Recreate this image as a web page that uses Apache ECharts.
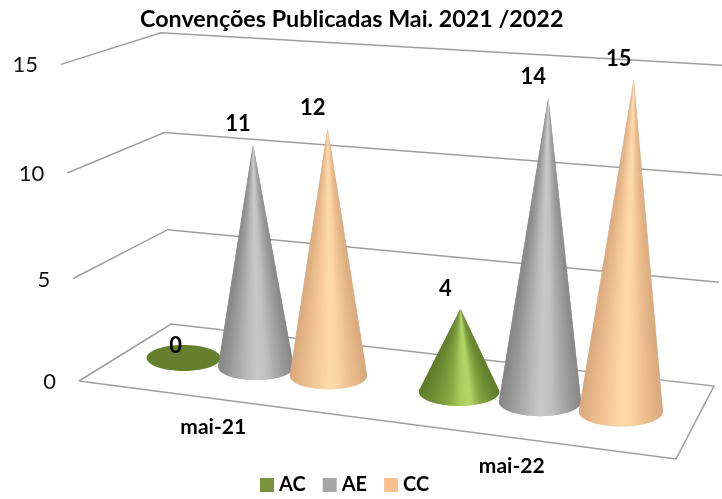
<!DOCTYPE html>
<html>
<head>
<meta charset="utf-8">
<style>html,body{margin:0;padding:0;background:#fff}#main{width:722px;height:499px}</style>
<script src="https://cdn.jsdelivr.net/npm/echarts@6/dist/echarts.min.js"></script>
</head>
<body>
<div id="main"></div>
<script>
var categories = ['mai-21', 'mai-22'];
var yTicks = [0, 5, 10, 15];
var AC = [0, 4];
var AE = [11, 14];
var CC = [12, 15];

var FONT = 'Lato';
var LINE = '#9e9e9e';

// cantos do chao 3D (x em px, dy em relacao a linha do zero)
var frontLeft = { x: 79, dy: 0, lean: -0.0566, f: 1 };
var backLeft = { x: 171, dy: -57, lean: -0.035, f: 0.92 };
var backRight = { x: 714, dy: 5, lean: 0.047, f: 1.012 };
var frontRight = { x: 676, dy: 78, lean: 0, f: 1 };

// sombreado de cada cone, da esquerda para a direita
var rampAC = ['#5e7b2a', '#6c8a33', '#7b9a3c', '#8aab45', '#a9cc5e', '#b4d76a', '#86a642', '#6f8e35', '#5f7c2b'];
var rampAE = ['#858585', '#979797', '#aaaaaa', '#bcbcbc', '#c8c8c8', '#c0c0c0', '#aaaaaa', '#989898', '#868686'];
var rampCC = ['#d9aa7e', '#e6b788', '#f0c394', '#f9cf9f', '#fedaa9', '#fad2a1', '#efc193', '#e4b586', '#d8a87c'];

// perspectiva: a altura cresce um pouco com o valor
function rise(v, api) {
	return api.size([0, 1])[1] * v * (1 + 0.003 * v);
}

function project(corner, v, api) {
	var r = rise(v, api) * corner.f;
	var zero = api.coord([0, 0])[1];
	return [corner.x + corner.lean * r, zero + corner.dy - r];
}

function renderFrame(params, api) {
	var v = api.value(0);
	var pts = [project(frontLeft, v, api), project(backLeft, v, api), project(backRight, v, api)];
	if (v === 0) {
		pts.push(project(frontRight, 0, api));
		pts.push(pts[0]);
	}
	return {
		type: 'group',
		children: [{
			type: 'polyline',
			shape: { points: pts },
			style: { fill: v === 0 ? '#fff' : 'none', stroke: LINE, lineWidth: 1.5 }
		}, {
			type: 'text',
			style: {
				text: String(v), x: pts[0][0] - 23, y: pts[0][1] + 1,
				align: 'right', verticalAlign: 'middle',
				font: '22px ' + FONT, fill: '#111'
			}
		}]
	};
}

function renderCategory(params, api) {
	var i = api.value(0);
	var zero = api.coord([i, 0])[1];
	var x = frontLeft.x + (frontRight.x - frontLeft.x) * (i + 0.5) / categories.length - 15;
	return {
		type: 'text',
		style: {
			text: categories[i], x: x, y: zero + 0.13 * (x - frontLeft.x) + 29,
			align: 'center', verticalAlign: 'middle',
			font: 'bold 21px ' + FONT, fill: '#000'
		}
	};
}

function coneRenderer(dodge, ramp) {
	return function (params, api) {
		var i = api.value(0);
		var v = api.value(1);
		var c = api.coord([i, 0]);
		var band = api.size([1, 0])[0];
		var depth = 1 + (c[0] - api.coord([0, 0])[0]) / band * 0.117;
		var x = c[0] + dodge * 0.255 * band * depth;
		var y = c[1] - 23 + 0.123 * (x - 184);
		var rx = 37 + (x - 184) * 0.0114;
		var ry = rx * 0.35;
		var h = rise(v, api) * (0.97 + (x - 256) * 0.000224);
		var tip = [x + (x - 350) / 7000 * h, y - h];
		var children = [];
		if (h <= ry) {
			children.push({
				type: 'ellipse',
				shape: { cx: x, cy: y, rx: rx, ry: ry },
				style: { fill: '#64802f' }
			});
		} else {
			var a = Math.asin(ry / h);
			var n = 48;
			// cada faceta cobre tambem a seguinte, assim nao ficam frestas
			for (var k = 0; k < n; k++) {
				var t0 = -a + (Math.PI + 2 * a) * k / n;
				var t1 = -a + (Math.PI + 2 * a) * Math.min(k + 2, n) / n;
				var p0 = [x + rx * Math.cos(t0), y + ry * Math.sin(t0)];
				var p1 = [x + rx * Math.cos(t1), y + ry * Math.sin(t1)];
				var col = echarts.color.lerp(((p0[0] + p1[0]) / 2 - x + rx) / (2 * rx), ramp);
				children.push({
					type: 'polygon',
					shape: { points: [tip, p0, p1] },
					style: { fill: col }
				});
			}
		}
		children.push({
			type: 'text',
			style: {
				text: String(v),
				x: tip[0] + (v ? -15 : -8), y: tip[1] + (v ? -20 : -12),
				align: 'center', verticalAlign: 'middle',
				font: 'bold 22px ' + FONT, fill: '#000'
			}
		});
		return { type: 'group', children: children };
	};
}

function coneSeries(name, values, dodge, ramp, color) {
	return {
		name: name,
		type: 'custom',
		renderItem: coneRenderer(dodge, ramp),
		data: values.map(function (v, i) { return [i, v]; }),
		encode: { x: 0, y: 1 },
		itemStyle: { color: color },
		clip: false,
		animation: false
	};
}

var myChart = echarts.init(document.getElementById('main'));
var option = {
	animation: false,
	title: {
		text: 'Convenções Publicadas Mai. 2021 /2022',
		left: 140,
		top: 8,
		padding: 0,
		textStyle: { fontFamily: FONT, fontWeight: 'bold', fontSize: 23.3, color: '#000' }
	},
	legend: {
		data: ['AC', 'AE', 'CC'],
		left: 260,
		top: 475,
		padding: 0,
		icon: 'rect',
		itemWidth: 14,
		itemHeight: 14,
		itemGap: 17,
		textStyle: { fontFamily: FONT, fontWeight: 'bold', fontSize: 20, color: '#000' }
	},
	grid: { left: 114, width: 568, top: 78, height: 303 },
	xAxis: { type: 'category', data: categories, show: false },
	yAxis: { type: 'value', min: 0, max: 15, interval: 5, show: false },
	series: [{
		type: 'custom',
		renderItem: renderFrame,
		data: yTicks.map(function (v) { return [v]; }),
		coordinateSystem: 'cartesian2d',
		encode: { y: 0 },
		silent: true,
		animation: false
	}, {
		type: 'custom',
		renderItem: renderCategory,
		data: categories.map(function (c, i) { return [i]; }),
		encode: { x: 0 },
		silent: true,
		animation: false
	},
	coneSeries('AC', AC, -1, rampAC, '#77933c'),
	coneSeries('AE', AE, 0, rampAE, '#a6a6a6'),
	coneSeries('CC', CC, 1, rampCC, '#fac090')]
};
myChart.setOption(option);
</script>
</body>
</html>
